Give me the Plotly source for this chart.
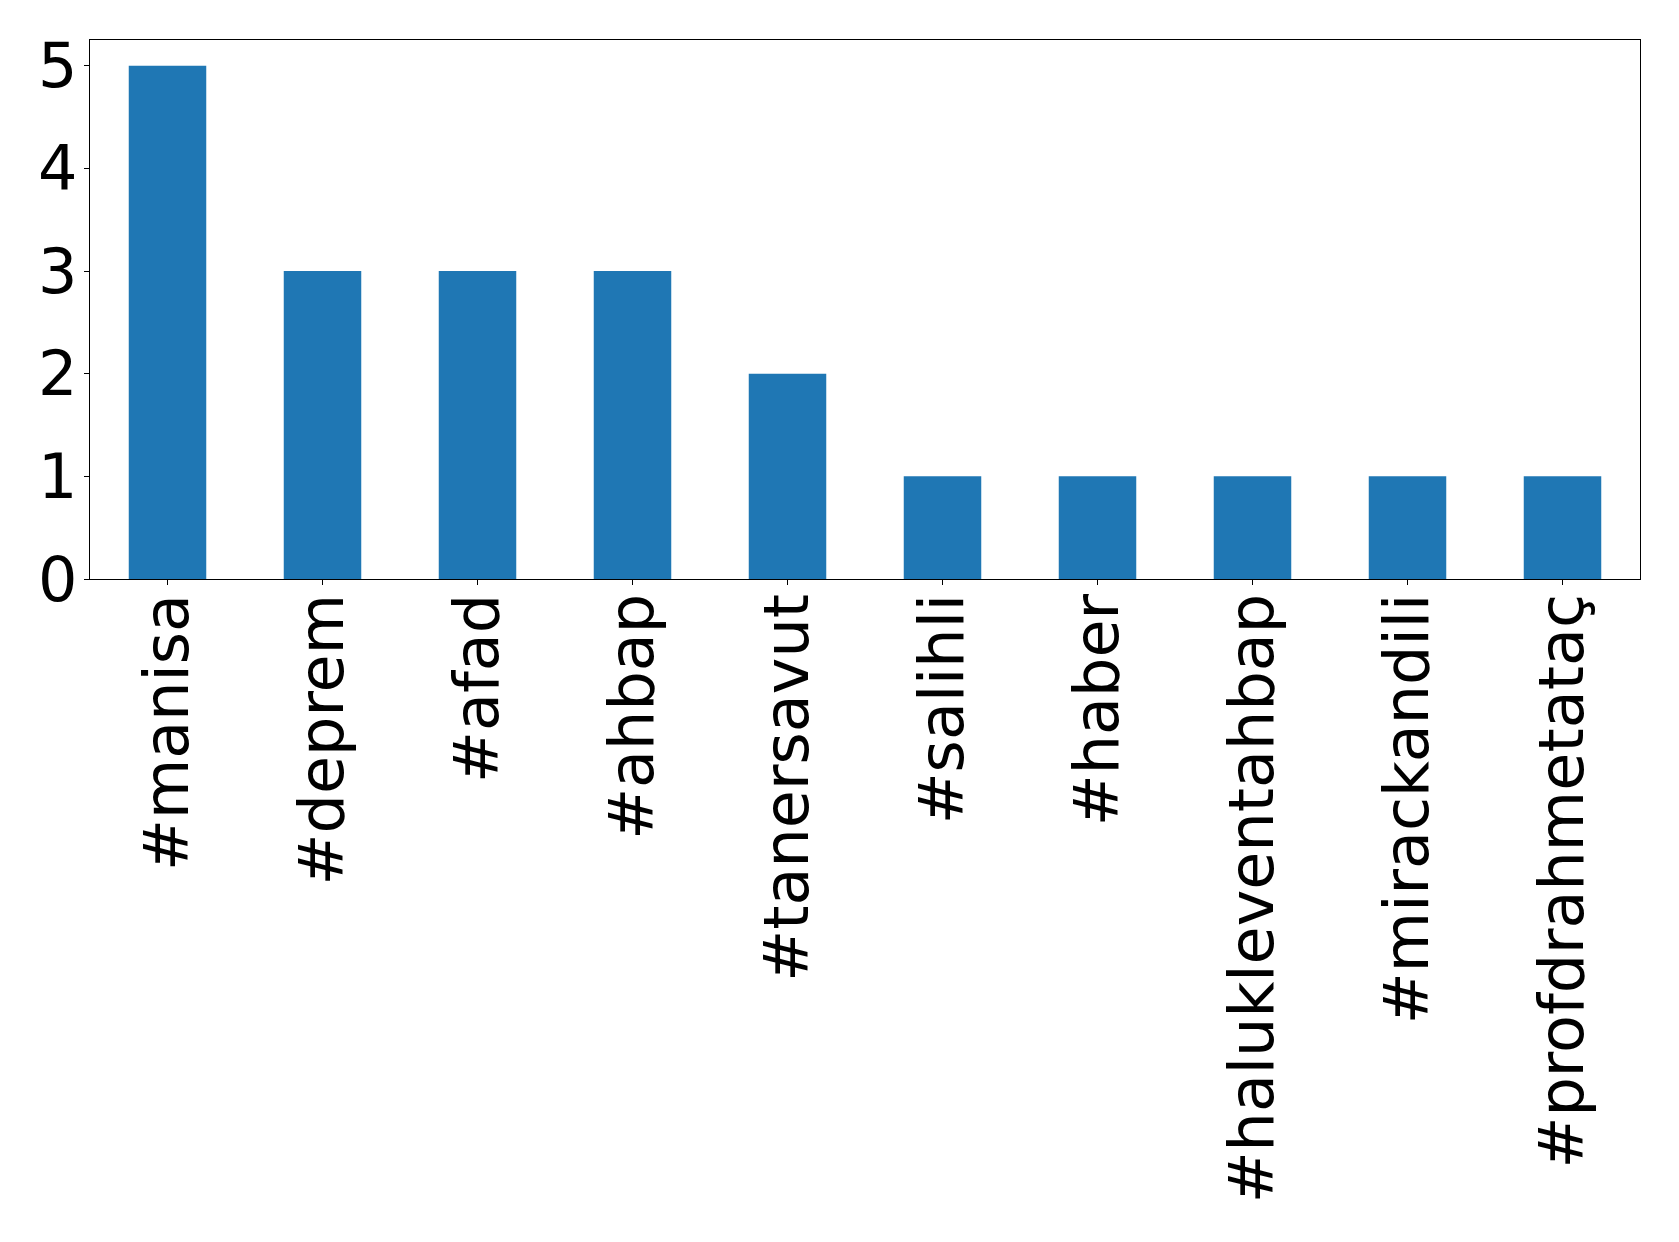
import plotly.graph_objects as go

categories = ["#manisa", "#deprem", "#afad", "#ahbap", "#tanersavut", "#salihli",
              "#haber", "#halukleventahbap", "#mirackandili", "#profdrahmetataç"]
counts = [5, 3, 3, 3, 2, 1, 1, 1, 1, 1]
ytick_vals = [0, 1, 2, 3, 4, 5]

fig = go.Figure(go.Bar(
    x=list(range(len(categories))), y=counts,
    width=0.5, marker=dict(color="#1f77b4", line=dict(width=0)),
))

font = dict(family="DejaVu Sans", size=62, color="black")
fig.update_layout(
    width=1679, height=1242,
    margin=dict(l=90, r=39, t=40, b=663),
    paper_bgcolor="white", plot_bgcolor="white",
    showlegend=False,
    font=font,
)
fig.update_xaxes(
    range=[-0.5, len(categories) - 0.5],
    tickmode="array", tickvals=list(range(len(categories))), ticktext=categories,
    tickangle=-90, ticks="outside", ticklen=5, tickwidth=1.2, tickcolor="black",
    showline=True, linecolor="black", linewidth=1.2, mirror=True,
    showgrid=False, zeroline=False, tickfont=font, automargin=False,
    ticklabelstandoff=-16,
)
fig.update_yaxes(
    range=[0, 5.25],
    tickmode="array", tickvals=ytick_vals,
    ticks="outside", ticklen=5, tickwidth=1.2, tickcolor="black",
    showline=True, linecolor="black", linewidth=1.2, mirror=True,
    showgrid=False, zeroline=False, tickfont=font, automargin=False,
    ticklabelstandoff=-6,
)
fig.write_html("out.html", config={"displayModeBar": False},
               post_script="document.body.style.margin='0';document.body.style.padding='0';")
